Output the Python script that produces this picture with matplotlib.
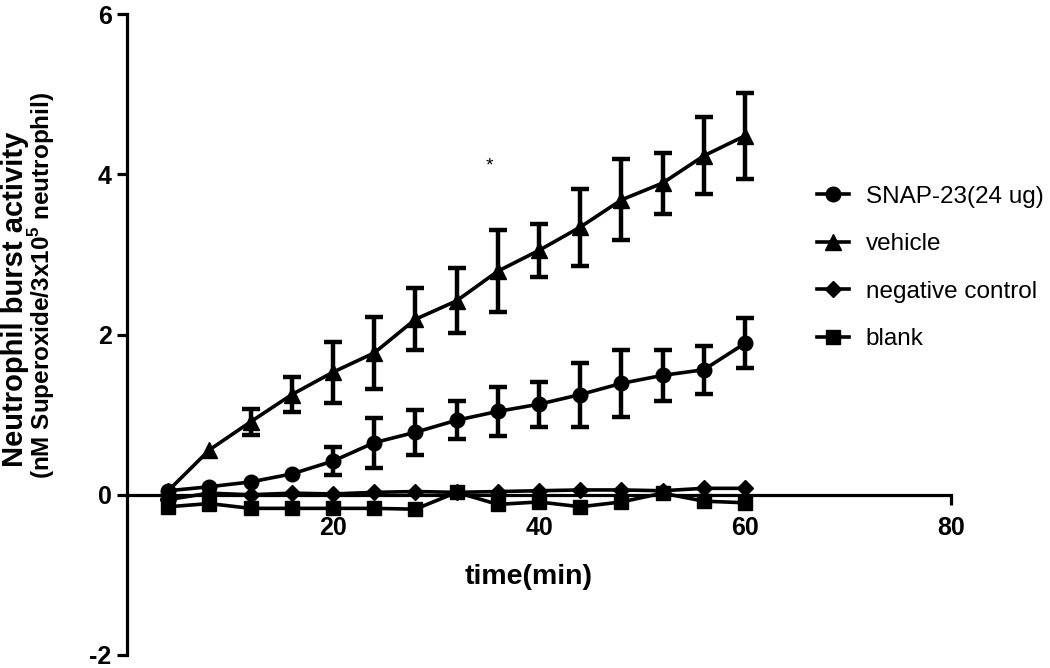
import matplotlib
matplotlib.use("Agg")
import matplotlib.pyplot as plt
from matplotlib import font_manager as fm

# ---- data ----
time_min = [4, 8, 12, 16, 20, 24, 28, 32, 36, 40, 44, 48, 52, 56, 60]

snap23 = [0.05, 0.10, 0.16, 0.26, 0.42, 0.65, 0.78, 0.93, 1.04, 1.13, 1.25, 1.39, 1.49, 1.56, 1.89]
snap23_err = [0.0, 0.0, 0.0, 0.0, 0.17, 0.31, 0.28, 0.24, 0.31, 0.28, 0.40, 0.42, 0.32, 0.30, 0.31]

vehicle = [0.05, 0.56, 0.91, 1.25, 1.53, 1.77, 2.19, 2.42, 2.79, 3.05, 3.34, 3.68, 3.89, 4.23, 4.48]
vehicle_err = [0.0, 0.0, 0.165, 0.22, 0.38, 0.445, 0.385, 0.405, 0.51, 0.335, 0.48, 0.505, 0.38, 0.48, 0.54]

neg_control = [-0.06, 0.02, 0.00, 0.02, 0.01, 0.03, 0.04, 0.03, 0.04, 0.05, 0.06, 0.06, 0.05, 0.08, 0.08]
blank = [-0.15, -0.11, -0.17, -0.17, -0.17, -0.17, -0.18, 0.03, -0.12, -0.09, -0.15, -0.09, 0.02, -0.08, -0.10]

series_labels = ["SNAP-23(24 ug)", "vehicle", "negative control", "blank"]
x_ticks = [20, 40, 60, 80]
y_ticks = [-2, 0, 2, 4, 6]
x_label = "time(min)"
y_label_1 = "Neutrophil burst activity"
y_label_2 = r"(nM Superoxide/3x10$^{\mathbf{5}}$ neutrophil)"

# ---- fonts ----
avail = {f.name for f in fm.fontManager.ttflist}
has_narrow = "Liberation Sans Narrow" in avail
legend_family = ["Liberation Sans Narrow", "DejaVu Sans"] if has_narrow else ["Liberation Sans", "DejaVu Sans"]
legend_size = 21 if has_narrow else 17.5
plt.rcParams["font.family"] = ["Liberation Sans", "DejaVu Sans"]
plt.rcParams["axes.unicode_minus"] = False
plt.rcParams["mathtext.fontset"] = "custom"
plt.rcParams["mathtext.rm"] = "Liberation Sans"
plt.rcParams["mathtext.bf"] = "Liberation Sans:bold"

fig = plt.figure(figsize=(10.5, 6.68), dpi=100)
ax = fig.add_axes([127 / 1050, 13 / 668, 824 / 1050, 641 / 668])


def draw_errors(xs, ys, es):
    xe = [x for x, e in zip(xs, es) if e > 0]
    ye = [y for y, e in zip(ys, es) if e > 0]
    ee = [e for e in es if e > 0]
    ax.errorbar(xe, ye, yerr=ee, fmt="none", ecolor="black",
                elinewidth=3.2, capsize=6.5, capthick=3.2, zorder=3)


draw_errors(time_min, snap23, snap23_err)
draw_errors(time_min, vehicle, vehicle_err)

lw = 2.6
h1, = ax.plot(time_min, snap23, color="black", lw=lw, marker="o", ms=10.5, zorder=4)
h2, = ax.plot(time_min, vehicle, color="black", lw=lw, marker="^", ms=11, zorder=4)
h3, = ax.plot(time_min, neg_control, color="black", lw=lw, marker="D", ms=8.5, zorder=4)
h4, = ax.plot(time_min, blank, color="black", lw=lw, marker="s", ms=9.5, zorder=4)

ax.set_xlim(0, 80)
ax.set_ylim(-2, 6)
ax.set_xticks(x_ticks)
ax.set_yticks(y_ticks)

for s in ["top", "right"]:
    ax.spines[s].set_visible(False)
ax.spines["bottom"].set_position(("data", 0))
ax.spines["left"].set_linewidth(2.3)
ax.spines["bottom"].set_linewidth(2.3)

ax.tick_params(axis="both", direction="out", length=7, width=2.3, color="black")
ax.tick_params(axis="x", pad=8)
ax.tick_params(axis="y", pad=4)
for lab in ax.get_xticklabels() + ax.get_yticklabels():
    lab.set_fontweight("bold")
    lab.set_fontsize(18)

ax.text(35.15, 4.1, "*", fontsize=14, ha="center", va="center")

fig.text(529 / 1050, 1 - 577 / 668, x_label, fontsize=20.5, fontweight="bold",
         ha="center", va="center")
fig.text(1 / 1050, 1 - 299 / 668, y_label_1, fontsize=21, fontweight="bold",
         rotation=90, ha="left", va="center")
fig.text(42 / 1050, 1 - 285 / 668, y_label_2, fontsize=17.5, fontweight="bold",
         rotation=90, ha="center", va="center")

leg = fig.legend([h1, h2, h3, h4], series_labels, loc="center left",
                 bbox_to_anchor=(817 / 1050, 1 - 268 / 668),
                 bbox_transform=fig.transFigure, frameon=False,
                 prop={"family": legend_family, "size": legend_size},
                 handlelength=1.3, handletextpad=0.7, labelspacing=1.05,
                 borderpad=0, borderaxespad=0)

fig.savefig("out.png", dpi=100)
